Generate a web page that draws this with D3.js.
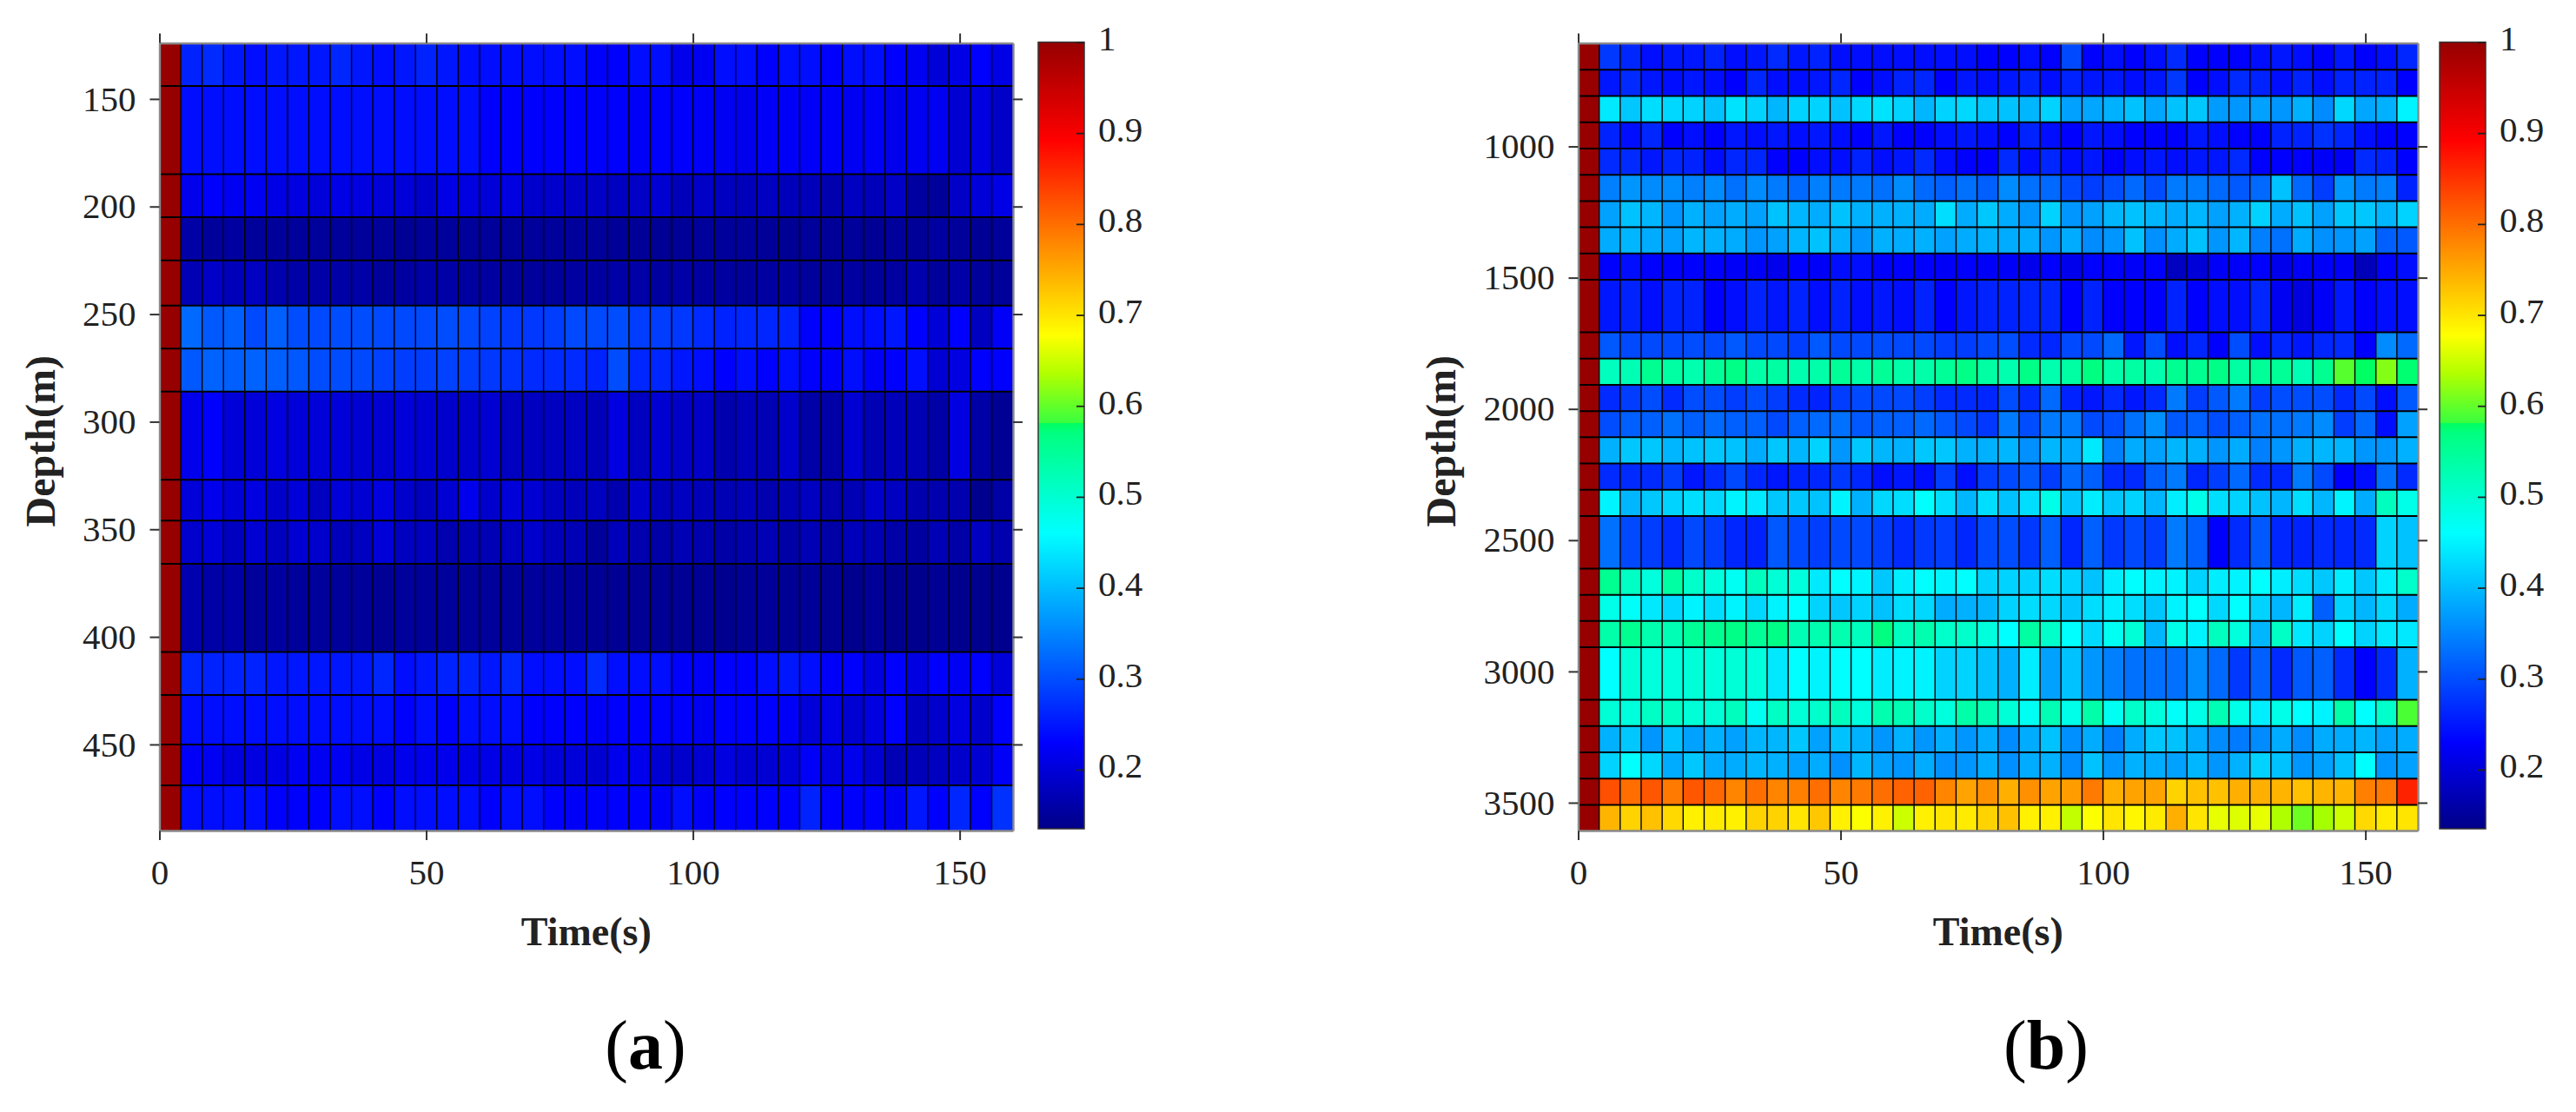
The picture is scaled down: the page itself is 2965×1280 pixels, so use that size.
<!DOCTYPE html>
<html>
<head>
<meta charset="utf-8">
<script src="https://cdn.jsdelivr.net/npm/d3@7"></script>
<style>
  html, body { margin: 0; padding: 0; background: #fff; }
  svg { display: block; }
  text { font-family: "Liberation Serif", serif; fill: #222; }
</style>
</head>
<body>
<script>
// depth edges of the rows, in metres
const depthEdgesA = [124, 144, 185, 205, 225, 246, 266, 286, 327, 346, 366, 407, 427, 450, 469, 490];
const depthEdgesB = [606, 708, 808, 908, 1008, 1108, 1208, 1308, 1408, 1508, 1708, 1808, 1908, 2008,
  2108, 2208, 2308, 2408, 2608, 2708, 2808, 2908, 3108, 3208, 3308, 3408, 3508, 3606];

const timeStep = 4;
const timeEnd = 160;
const firstColumnValue = 1;

const xTicks = [0, 50, 100, 150];
const depthTicksA = [150, 200, 250, 300, 350, 400, 450];
const depthTicksB = [1000, 1500, 2000, 2500, 3000, 3500];
const colorTicks = [0.2, 0.3, 0.4, 0.5, 0.6, 0.7, 0.8, 0.9, 1];
const colorDomain = [0.135, 1];

// colormap stops, jet like with the small step near 0.58
const cmapValues = [0.135, 0.23, 0.46, 0.57, 0.581, 0.5811, 0.635, 0.678, 0.892, 1];
const cmapColors = ['#000088', '#0000ff', '#00ffff', '#00ff80', '#00ff60', '#38ff40', '#b0ff00', '#ffff00', '#ff0000', '#960000'];

// values, one line per row, columns from t=4 s on
const valuesA = [
  [.26,.27,.25,.245,.25,.25,.25,.265,.25,.24,.25,.26,.25,.245,.245,.245,.245,.24,.24,.235,.235,.245,.245,.215,.22,.245,.24,.23,.24,.245,.23,.24,.24,.23,.22,.2,.21,.235,.21],
  [.24,.245,.24,.24,.24,.24,.24,.24,.24,.24,.24,.24,.24,.24,.235,.235,.235,.23,.235,.235,.23,.225,.23,.23,.225,.22,.215,.225,.225,.225,.225,.22,.225,.215,.22,.22,.195,.205,.185],
  [.215,.23,.22,.22,.21,.205,.2,.21,.205,.2,.2,.19,.21,.205,.2,.205,.19,.19,.185,.185,.18,.185,.195,.175,.185,.18,.175,.18,.175,.175,.165,.18,.175,.185,.155,.15,.185,.2,.21],
  [.16,.15,.155,.15,.15,.15,.15,.15,.15,.15,.145,.15,.15,.15,.15,.15,.15,.15,.15,.15,.148,.148,.145,.148,.15,.15,.15,.148,.145,.15,.148,.15,.145,.15,.148,.155,.15,.145,.15],
  [.17,.185,.175,.18,.165,.16,.16,.16,.16,.15,.155,.16,.16,.155,.155,.15,.15,.15,.155,.155,.16,.16,.155,.16,.155,.155,.15,.155,.155,.15,.15,.155,.15,.155,.165,.15,.16,.15,.15],
  [.325,.31,.315,.295,.315,.3,.295,.3,.3,.295,.295,.295,.3,.295,.29,.28,.28,.285,.295,.295,.3,.285,.285,.28,.27,.26,.265,.265,.26,.235,.235,.24,.245,.25,.23,.2,.23,.18,.225],
  [.31,.32,.315,.32,.315,.31,.3,.3,.295,.29,.285,.285,.29,.285,.28,.275,.27,.27,.27,.26,.3,.265,.265,.25,.24,.23,.245,.23,.245,.23,.225,.245,.225,.23,.24,.195,.205,.23,.23],
  [.215,.235,.2,.2,.205,.2,.2,.2,.195,.195,.2,.195,.19,.19,.195,.18,.18,.18,.18,.175,.205,.18,.195,.185,.185,.165,.175,.17,.19,.16,.16,.195,.17,.175,.17,.16,.205,.16,.145],
  [.2,.215,.2,.205,.19,.2,.18,.2,.195,.205,.19,.18,.195,.215,.19,.2,.195,.18,.175,.18,.165,.19,.175,.18,.175,.17,.175,.165,.17,.18,.165,.17,.19,.18,.165,.165,.165,.14,.16],
  [.19,.2,.18,.195,.18,.195,.19,.175,.18,.2,.18,.18,.165,.17,.17,.18,.19,.175,.17,.15,.175,.165,.16,.17,.165,.16,.165,.17,.16,.17,.16,.175,.17,.16,.155,.17,.16,.18,.165],
  [.165,.16,.16,.15,.155,.15,.15,.15,.15,.145,.15,.15,.15,.15,.15,.15,.15,.15,.148,.145,.145,.145,.145,.145,.145,.14,.145,.148,.145,.148,.145,.14,.148,.14,.14,.145,.14,.14,.14],
  [.265,.26,.26,.26,.25,.25,.25,.25,.25,.265,.24,.25,.26,.26,.25,.265,.24,.24,.245,.27,.245,.24,.24,.235,.225,.235,.23,.24,.25,.245,.225,.235,.205,.23,.205,.235,.22,.235,.2],
  [.24,.24,.24,.24,.24,.24,.24,.24,.24,.24,.235,.24,.235,.24,.24,.24,.235,.235,.23,.225,.23,.235,.235,.235,.22,.235,.235,.235,.225,.2,.21,.195,.205,.235,.18,.19,.205,.19,.235],
  [.225,.22,.205,.205,.21,.22,.22,.22,.21,.205,.215,.215,.215,.21,.21,.205,.21,.2,.2,.195,.215,.215,.195,.19,.195,.205,.195,.195,.2,.225,.205,.215,.195,.17,.175,.18,.19,.195,.225],
  [.24,.24,.24,.24,.235,.235,.235,.24,.24,.235,.24,.24,.245,.24,.235,.24,.24,.235,.225,.23,.235,.235,.225,.24,.225,.235,.235,.235,.23,.26,.235,.235,.235,.22,.25,.235,.265,.235,.275],
];

const valuesB = [
  [.28,.265,.245,.25,.25,.26,.245,.25,.27,.25,.26,.24,.24,.245,.245,.245,.24,.245,.235,.235,.245,.235,.295,.235,.245,.235,.245,.27,.235,.235,.235,.24,.25,.24,.235,.25,.235,.24,.265],
  [.25,.27,.25,.245,.25,.245,.235,.265,.245,.245,.25,.265,.235,.245,.26,.265,.235,.25,.245,.25,.26,.245,.26,.25,.25,.245,.25,.28,.235,.245,.27,.26,.245,.26,.245,.26,.26,.26,.235],
  [.44,.41,.43,.425,.42,.405,.435,.42,.395,.42,.42,.405,.425,.435,.42,.395,.42,.425,.41,.405,.395,.42,.375,.38,.39,.405,.38,.405,.41,.37,.365,.375,.365,.39,.355,.425,.38,.39,.45],
  [.26,.245,.265,.235,.245,.235,.25,.24,.25,.24,.25,.24,.235,.25,.235,.235,.24,.25,.24,.235,.26,.245,.235,.25,.24,.235,.235,.235,.25,.24,.235,.235,.26,.26,.275,.265,.245,.235,.235],
  [.27,.27,.25,.265,.26,.245,.265,.265,.235,.23,.24,.245,.26,.245,.25,.27,.245,.235,.235,.27,.245,.265,.245,.25,.235,.245,.25,.245,.25,.25,.27,.235,.235,.23,.225,.225,.27,.26,.235],
  [.345,.365,.355,.355,.345,.355,.33,.355,.34,.325,.345,.34,.34,.33,.355,.325,.315,.33,.315,.355,.33,.325,.295,.285,.3,.325,.3,.34,.34,.325,.31,.325,.405,.325,.285,.365,.34,.345,.26],
  [.375,.405,.395,.365,.39,.375,.385,.375,.405,.395,.385,.405,.39,.39,.39,.385,.43,.385,.41,.385,.365,.42,.365,.375,.395,.405,.395,.385,.395,.375,.39,.42,.385,.405,.375,.41,.41,.395,.42],
  [.385,.395,.385,.375,.395,.39,.385,.365,.375,.395,.405,.39,.365,.39,.385,.39,.375,.385,.39,.385,.385,.365,.385,.355,.365,.405,.36,.385,.405,.365,.395,.345,.33,.385,.36,.365,.375,.315,.31],
  [.235,.245,.23,.23,.23,.23,.225,.225,.215,.23,.225,.24,.24,.235,.23,.23,.225,.23,.225,.225,.215,.23,.215,.23,.23,.225,.23,.18,.2,.225,.225,.23,.215,.225,.225,.225,.175,.23,.245],
  [.25,.26,.245,.26,.26,.235,.245,.26,.25,.26,.245,.26,.24,.25,.24,.26,.235,.25,.26,.26,.265,.265,.235,.26,.235,.235,.23,.26,.235,.245,.24,.265,.22,.205,.225,.25,.235,.24,.24],
  [.31,.295,.295,.295,.3,.295,.31,.295,.295,.285,.31,.295,.295,.3,.295,.295,.285,.285,.295,.3,.27,.265,.295,.295,.325,.25,.3,.245,.265,.235,.3,.245,.265,.25,.265,.27,.235,.355,.325],
  [.515,.525,.555,.54,.53,.55,.565,.535,.54,.53,.535,.55,.535,.55,.535,.535,.55,.565,.54,.53,.565,.53,.54,.57,.535,.54,.53,.555,.555,.565,.54,.55,.55,.525,.555,.595,.58,.615,.575],
  [.27,.285,.3,.27,.3,.3,.285,.3,.285,.27,.26,.285,.295,.295,.295,.285,.27,.27,.265,.3,.27,.325,.26,.25,.27,.25,.27,.34,.285,.31,.34,.285,.3,.3,.3,.27,.295,.245,.31],
  [.3,.315,.315,.33,.315,.325,.315,.315,.295,.315,.325,.33,.31,.315,.315,.325,.31,.295,.28,.34,.3,.34,.34,.295,.3,.33,.36,.31,.315,.3,.315,.33,.33,.34,.355,.285,.325,.245,.375],
  [.39,.41,.41,.395,.405,.41,.405,.385,.41,.395,.42,.365,.41,.395,.39,.41,.41,.39,.39,.395,.36,.395,.385,.44,.345,.385,.375,.395,.39,.365,.385,.345,.365,.39,.395,.395,.365,.365,.39],
  [.27,.27,.27,.285,.25,.27,.295,.265,.25,.26,.265,.28,.265,.245,.25,.245,.285,.245,.285,.295,.31,.285,.325,.315,.27,.27,.315,.34,.265,.285,.325,.27,.265,.34,.295,.235,.245,.33,.27],
  [.45,.395,.41,.42,.43,.425,.45,.44,.41,.41,.405,.45,.39,.425,.43,.46,.43,.395,.43,.405,.43,.48,.41,.445,.41,.42,.395,.445,.48,.43,.42,.405,.395,.43,.395,.45,.385,.515,.48],
  [.33,.295,.285,.27,.295,.285,.265,.26,.31,.295,.285,.295,.295,.285,.27,.28,.285,.265,.295,.3,.28,.315,.265,.315,.28,.295,.285,.34,.315,.235,.27,.31,.265,.26,.27,.265,.27,.42,.405],
  [.555,.51,.49,.54,.505,.49,.47,.515,.495,.49,.44,.46,.45,.41,.445,.46,.45,.46,.42,.42,.42,.43,.42,.405,.445,.46,.45,.45,.42,.445,.45,.46,.445,.43,.41,.445,.41,.445,.505],
  [.48,.465,.44,.425,.45,.43,.45,.425,.45,.46,.42,.41,.42,.405,.43,.425,.385,.39,.395,.42,.43,.425,.41,.43,.445,.43,.41,.45,.46,.425,.46,.42,.395,.445,.315,.42,.395,.425,.385],
  [.535,.555,.53,.525,.55,.555,.565,.55,.565,.525,.53,.53,.515,.57,.515,.53,.505,.505,.49,.46,.54,.505,.46,.425,.47,.495,.395,.48,.45,.515,.49,.395,.51,.44,.42,.46,.42,.44,.44],
  [.46,.495,.49,.49,.495,.49,.495,.49,.44,.46,.45,.46,.46,.445,.45,.45,.42,.42,.405,.39,.445,.375,.405,.365,.345,.33,.33,.33,.355,.325,.28,.315,.27,.31,.315,.27,.235,.27,.39],
  [.495,.49,.51,.51,.495,.495,.515,.47,.51,.495,.505,.515,.49,.53,.525,.505,.49,.535,.525,.495,.47,.525,.48,.535,.47,.505,.49,.465,.48,.525,.48,.445,.48,.46,.45,.535,.46,.505,.59],
  [.39,.41,.365,.405,.375,.39,.375,.395,.395,.41,.375,.405,.39,.365,.39,.365,.385,.365,.385,.355,.385,.405,.36,.385,.345,.385,.41,.405,.385,.355,.34,.355,.385,.355,.385,.385,.395,.375,.385],
  [.42,.46,.425,.385,.41,.385,.385,.395,.39,.375,.385,.36,.395,.375,.365,.385,.36,.365,.385,.36,.385,.39,.355,.405,.365,.39,.385,.375,.395,.365,.39,.42,.405,.365,.375,.405,.46,.365,.375],
  [.825,.8,.82,.79,.82,.805,.78,.8,.78,.785,.8,.78,.79,.8,.81,.81,.78,.755,.77,.745,.77,.755,.76,.79,.745,.755,.755,.715,.73,.73,.745,.745,.74,.73,.74,.74,.785,.79,.865],
  [.74,.715,.73,.71,.69,.695,.69,.715,.715,.7,.725,.69,.676,.69,.65,.69,.7,.695,.715,.73,.69,.69,.645,.676,.7,.685,.695,.745,.7,.665,.66,.665,.635,.605,.63,.65,.71,.695,.7],
];

const color = d3.scaleLinear()
  .domain(cmapValues)
  .range(cmapColors)
  .clamp(true);

const svg = d3.select('body')
  .append('svg')
  .attr('width', 2965)
  .attr('height', 1280);

const plotTop = 49.5;
const plotBottom = 956;

const defs = svg.append('defs');
defs.append('filter')
  .attr('id', 'soft')
  .append('feGaussianBlur')
  .attr('stdDeviation', 0.6);

const gradient = defs.append('linearGradient')
  .attr('id', 'cmap')
  .attr('x1', 0)
  .attr('x2', 0)
  .attr('y1', 1)
  .attr('y2', 0);
gradient.selectAll('stop')
  .data(cmapValues)
  .enter()
  .append('stop')
  .attr('offset', d => (d - colorDomain[0]) / (colorDomain[1] - colorDomain[0]))
  .attr('stop-color', (d, i) => cmapColors[i]);

function heatmap(opts) {
  const {
    left, right, depthEdges, values, depthTicks, barLeft, barRight, captionLetter, captionX, titleLeft,
  } = opts;

  const x = d3.scaleLinear().domain([0, timeEnd]).range([left, right]);
  const y = d3.scaleLinear().domain([depthEdges[0], depthEdges[depthEdges.length - 1]]).range([plotTop, plotBottom]);

  const g = svg.append('g');
  const cells = g.append('g').attr('filter', 'url(#soft)');

  // one group per row, the red first column is added to each row
  values.forEach((row, r) => {
    cells.selectAll(`.row${r}`)
      .data([firstColumnValue, ...row])
      .enter()
      .append('rect')
      .attr('class', `row${r}`)
      .attr('x', (d, i) => x(i * timeStep))
      .attr('width', x(timeStep) - x(0))
      .attr('y', y(depthEdges[r]))
      .attr('height', y(depthEdges[r + 1]) - y(depthEdges[r]))
      .attr('fill', d => color(d));
  });

  // cell borders are drawn on top, horizontal ones are a bit heavier
  cells.selectAll('.vline')
    .data(d3.range(timeStep, timeEnd, timeStep))
    .enter()
    .append('line')
    .attr('x1', d => x(d))
    .attr('x2', d => x(d))
    .attr('y1', plotTop)
    .attr('y2', plotBottom)
    .attr('stroke', '#000')
    .attr('stroke-width', 1.4);

  cells.selectAll('.hline')
    .data(depthEdges.slice(1, -1))
    .enter()
    .append('line')
    .attr('x1', left)
    .attr('x2', right)
    .attr('y1', d => y(d))
    .attr('y2', d => y(d))
    .attr('stroke', '#000')
    .attr('stroke-width', 2);

  // all four sides get outward ticks, labels only left and bottom
  const axisBottom = d3.axisBottom(x).tickValues(xTicks).tickSizeInner(11).tickSizeOuter(0)
    .tickPadding(22);
  const axisTop = d3.axisTop(x).tickValues(xTicks).tickSizeInner(11).tickSizeOuter(0)
    .tickFormat('');
  const axisLeft = d3.axisLeft(y).tickValues(depthTicks).tickSizeInner(11).tickSizeOuter(0)
    .tickPadding(16)
    .tickFormat(d3.format('d'));
  const axisRight = d3.axisRight(y).tickValues(depthTicks).tickSizeInner(11).tickSizeOuter(0)
    .tickFormat('');

  [
    [axisBottom, `translate(0,${plotBottom})`],
    [axisTop, `translate(0,${plotTop})`],
    [axisLeft, `translate(${left},0)`],
    [axisRight, `translate(${right},0)`],
  ].forEach(([axis, transform]) => {
    const a = g.append('g')
      .attr('transform', transform)
      .call(axis);
    a.select('.domain').attr('stroke', '#8a8a8a').attr('stroke-width', 2.4);
    a.selectAll('.tick line').attr('stroke', '#333').attr('stroke-width', 2);
    a.selectAll('.tick text')
      .style('font-size', '41px')
      .style('font-family', '"Liberation Serif", serif')
      .attr('fill', '#222');
  });

  g.append('text')
    .attr('transform', `translate(${titleLeft},${(plotTop + plotBottom) / 2 + 5}) rotate(-90)`)
    .attr('text-anchor', 'middle')
    .style('font-size', '48px')
    .style('font-weight', 'bold')
    .text('Depth(m)');

  g.append('text')
    .attr('x', (left + right) / 2)
    .attr('y', 1088)
    .attr('text-anchor', 'middle')
    .style('font-size', '46px')
    .style('font-weight', 'bold')
    .text('Time(s)');

  // colour bar
  const barY = d3.scaleLinear().domain(colorDomain).range([954, 48.5]);
  g.append('rect')
    .attr('x', barLeft)
    .attr('y', barY(1))
    .attr('width', barRight - barLeft)
    .attr('height', barY(colorDomain[0]) - barY(1))
    .attr('fill', 'url(#cmap)')
    .attr('stroke', '#333')
    .attr('stroke-width', 1.5);

  const bar = g.append('g')
    .attr('transform', `translate(${barRight},0)`)
    .call(d3.axisLeft(barY).tickValues(colorTicks).tickSizeInner(9).tickSizeOuter(0)
      .tickFormat(d3.format('')));
  bar.select('.domain').remove();
  bar.selectAll('.tick line').attr('stroke', '#222').attr('stroke-width', 1.8);
  bar.selectAll('.tick text')
    .attr('x', 16)
    .attr('dy', '0.22em')
    .attr('text-anchor', 'start')
    .style('font-size', '41px')
    .style('font-family', '"Liberation Serif", serif')
    .attr('fill', '#222');

  // caption under the panel
  const caption = g.append('text')
    .attr('x', captionX)
    .attr('y', 1230)
    .attr('text-anchor', 'middle')
    .style('font-size', '80px')
    .style('fill', '#000');
  caption.append('tspan').text('(');
  caption.append('tspan').style('font-weight', 'bold').text(captionLetter);
  caption.append('tspan').text(')');
}

heatmap({
  left: 183.5,
  right: 1166,
  depthEdges: depthEdgesA,
  values: valuesA,
  depthTicks: depthTicksA,
  barLeft: 1195,
  barRight: 1248,
  captionLetter: 'a',
  captionX: 743,
  titleLeft: 63,
});

heatmap({
  left: 1816.5,
  right: 2783,
  depthEdges: depthEdgesB,
  values: valuesB,
  depthTicks: depthTicksB,
  barLeft: 2808,
  barRight: 2861,
  captionLetter: 'b',
  captionX: 2355,
  titleLeft: 1675,
});
</script>
</body>
</html>
